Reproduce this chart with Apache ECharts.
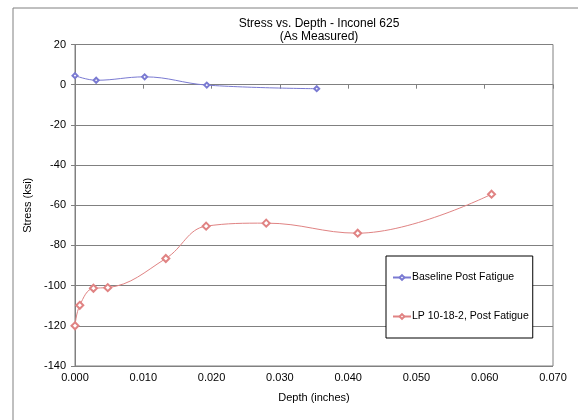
<!DOCTYPE html>
<html>
<head>
<meta charset="utf-8">
<script src="https://cdn.jsdelivr.net/npm/echarts@6/dist/echarts.min.js"></script>
<style>
  html, body { margin: 0; padding: 0; background: #fff; }
  #chart { width: 578px; height: 420px; }
</style>
</head>
<body>
<div id="chart"></div>
<script>
// depth in inches, stress in ksi
var baselineDepth = [0.0000, 0.0031, 0.0102, 0.0193, 0.0354];
var baselineStress = [4.5, 2.2, 3.9, -0.2, -2.0];
var lpDepth = [0.0000, 0.0007, 0.0027, 0.0048, 0.0133, 0.0192, 0.0280, 0.0414, 0.0610];
var lpStress = [-120.0, -109.8, -101.3, -101.0, -86.5, -70.4, -68.9, -73.9, -54.5];

function pairs(xs, ys) {
  return xs.map(function (x, i) { return [x, ys[i]]; });
}

var chart = echarts.init(document.getElementById('chart'));
var font = 'Liberation Sans, Arial, sans-serif';

var option = {
  backgroundColor: '#fff',
  animation: false,
  textStyle: { fontFamily: font },
  title: {
    text: 'Stress vs. Depth - Inconel 625\n(As Measured)',
    left: 314,
    top: 12,
    textAlign: 'center',
    textStyle: { fontSize: 12, fontWeight: 'normal', color: '#000', lineHeight: 13, fontFamily: font }
  },
  graphic: [{
    type: 'rect',
    shape: { x: 13, y: 8, width: 700, height: 600 },
    style: { fill: 'none', stroke: '#808080', lineWidth: 1 },
    silent: true
  }],
  grid: {
    left: 75, right: 25, top: 44.5, bottom: 54,
    show: true, borderColor: '#808080', borderWidth: 1
  },
  legend: {
    orient: 'vertical',
    left: 386,
    top: 256,
    padding: [16, 4, 16, 6],
    itemGap: 28,
    itemWidth: 18,
    itemHeight: 6,
    backgroundColor: '#fff',
    borderColor: '#000',
    borderWidth: 1,
    textStyle: { fontSize: 10.5, color: '#000', padding: [0, 0, 0, -4], fontFamily: font },
    data: ['Baseline Post Fatigue', 'LP 10-18-2, Post Fatigue']
  },
  xAxis: {
    type: 'value',
    min: 0, max: 0.07, interval: 0.01,
    name: 'Depth (inches)',
    nameLocation: 'middle',
    nameGap: 26,
    nameTextStyle: { fontSize: 11, color: '#000' },
    axisLine: { show: true, lineStyle: { color: '#808080' } },
    axisTick: { show: true, inside: false, length: 4, lineStyle: { color: '#808080' } },
    axisLabel: { fontSize: 11, color: '#000', margin: 6, formatter: function (v) { return v.toFixed(3); } },
    splitLine: { show: false }
  },
  yAxis: {
    type: 'value',
    min: -140, max: 20, interval: 20,
    name: 'Stress (ksi)',
    nameLocation: 'middle',
    nameGap: 41,
    nameTextStyle: { fontSize: 11, color: '#000' },
    axisLine: { show: true, lineStyle: { color: '#808080' } },
    axisTick: { show: true, inside: false, length: 4, lineStyle: { color: '#808080' } },
    axisLabel: { fontSize: 11, color: '#000', margin: 9 },
    splitLine: { show: true, lineStyle: { color: '#808080', width: 1 } }
  },
  series: [{
    name: 'Baseline Post Fatigue',
    type: 'line',
    smooth: 0.4,
    symbol: 'emptyDiamond',
    symbolSize: 5,
    color: '#7a7ad2',
    lineStyle: { width: 1, color: '#7a7ad2' },
    data: pairs(baselineDepth, baselineStress)
  }, {
    name: 'LP 10-18-2, Post Fatigue',
    type: 'line',
    smooth: 0.4,
    symbol: 'emptyDiamond',
    symbolSize: 7,
    color: '#e08383',
    lineStyle: { width: 1, color: '#e08383' },
    data: pairs(lpDepth, lpStress)
  }]
};

chart.setOption(option);
</script>
</body>
</html>
